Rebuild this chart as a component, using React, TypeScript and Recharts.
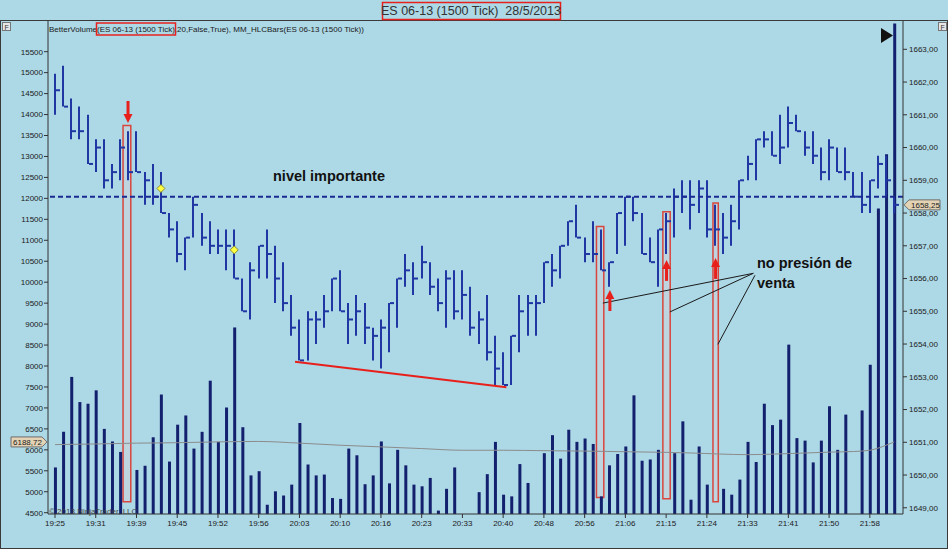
import React from 'react';
import {
  ComposedChart,
  Bar,
  Line,
  XAxis,
  YAxis,
  ReferenceLine,
  ReferenceArea,
  ReferenceDot,
} from 'recharts';

// axis labels
const timeLabels = [
  '19:25', '19:31', '19:39', '19:45', '19:52', '19:56', '20:03', '20:10', '20:16', '20:23', '20:33',
  '20:40', '20:48', '20:56', '21:06', '21:15', '21:24', '21:33', '21:41', '21:50', '21:58',
];
const volTicks = [4500, 5000, 5500, 6000, 6500, 7000, 7500, 8000, 8500, 9000, 9500, 10000, 10500, 11000, 11500, 12000, 12500, 13000, 13500, 14000, 14500, 15000, 15500];
const priceTicks = [1649, 1650, 1651, 1652, 1653, 1654, 1655, 1656, 1657, 1658, 1659, 1660, 1661, 1662, 1663];

// HLC bars, 1500 tick
const highs = [
  1662.25, 1662.5, 1661.5, 1661.25, 1661.0, 1660.25, 1660.25, 1659.5, 1660.25, 1660.5,
  1660.5, 1659.25, 1659.5, 1659.25, 1658.0, 1657.75, 1657.25, 1658.5, 1658.0, 1657.75,
  1657.5, 1657.5, 1657.5, 1656.0, 1656.5, 1657.0, 1657.5, 1657.0, 1656.5, 1655.5,
  1654.75, 1655.0, 1655.0, 1655.5, 1656.0, 1656.25, 1655.25, 1655.5, 1655.25, 1654.5,
  1654.75, 1655.25, 1656.0, 1656.75, 1656.5, 1657.0, 1656.5, 1656.0, 1656.25, 1656.25,
  1656.25, 1655.75, 1655.0, 1655.5, 1654.25, 1653.75, 1654.25, 1655.5, 1655.5, 1655.5,
  1656.5, 1656.75, 1657.0, 1657.75, 1658.25, 1657.25, 1657.75, 1657.5, 1656.5, 1658.0,
  1658.5, 1658.5, 1658.0, 1657.25, 1657.5, 1658.0, 1658.75, 1659.0, 1659.0, 1659.0,
  1659.0, 1658.25, 1658.0, 1658.25, 1659.0, 1659.75, 1660.25, 1660.5, 1660.5, 1661.0,
  1661.25, 1661.0, 1660.5, 1660.5, 1660.0, 1660.25, 1660.0, 1660.0, 1659.25, 1659.25,
  1659.0, 1659.75, 1659.75, 1658.5,
];
const lows = [
  1661.0, 1661.25, 1660.25, 1660.25, 1659.5, 1659.25, 1658.75, 1658.75, 1659.0, 1659.0,
  1659.25, 1658.25, 1658.25, 1658.0, 1657.25, 1656.5, 1656.25, 1657.25, 1657.0, 1656.75,
  1656.75, 1656.25, 1656.0, 1655.0, 1654.75, 1656.0, 1656.0, 1655.25, 1655.0, 1654.25,
  1653.5, 1653.5, 1654.0, 1654.5, 1655.0, 1655.0, 1654.0, 1654.25, 1654.0, 1653.5,
  1653.25, 1653.75, 1654.5, 1655.75, 1655.5, 1656.0, 1655.5, 1655.0, 1654.5, 1654.75,
  1654.75, 1654.25, 1654.0, 1653.5, 1652.75, 1652.75, 1652.75, 1653.75, 1654.25, 1654.25,
  1655.25, 1655.75, 1656.0, 1657.0, 1657.25, 1656.5, 1656.5, 1656.25, 1655.75, 1656.75,
  1657.0, 1657.75, 1656.75, 1656.5, 1655.75, 1656.75, 1657.25, 1658.0, 1657.5, 1658.0,
  1657.25, 1657.0, 1656.75, 1657.0, 1657.5, 1659.0, 1659.0, 1660.0, 1659.75, 1659.5,
  1660.0, 1660.5, 1659.75, 1659.5, 1659.0, 1659.0, 1659.25, 1659.0, 1658.5, 1658.0,
  1658.0, 1658.75, 1658.5, 1658.0,
];
const closes = [
  1661.75, 1661.25, 1660.5, 1660.5, 1659.5, 1660.0, 1659.0, 1659.25, 1660.0, 1659.25,
  1659.25, 1659.0, 1658.5, 1658.0, 1657.5, 1656.75, 1657.25, 1658.25, 1657.25, 1657.0,
  1657.0, 1657.0, 1656.0, 1655.0, 1656.25, 1657.0, 1656.75, 1656.0, 1655.25, 1654.5,
  1653.5, 1654.75, 1654.75, 1655.0, 1656.0, 1655.0, 1654.75, 1655.0, 1654.5, 1654.25,
  1654.5, 1655.25, 1656.0, 1656.25, 1656.0, 1656.5, 1655.75, 1655.25, 1656.0, 1655.0,
  1655.5, 1654.5, 1654.75, 1653.75, 1653.25, 1652.75, 1654.25, 1655.0, 1655.25, 1655.25,
  1656.5, 1656.25, 1657.0, 1657.75, 1657.25, 1656.75, 1656.75, 1656.25, 1656.5, 1658.0,
  1658.5, 1658.0, 1656.75, 1656.5, 1657.5, 1657.75, 1658.5, 1658.5, 1658.25, 1658.75,
  1657.5, 1657.5, 1657.25, 1657.75, 1659.0, 1659.5, 1660.25, 1660.25, 1659.75, 1660.0,
  1660.75, 1660.5, 1660.0, 1659.75, 1659.25, 1660.0, 1659.25, 1659.25, 1658.5, 1658.25,
  1659.0, 1659.5, 1659.0, 1658.25,
];
const volumes = [
  5580, 6430, 7740, 7140, 7100, 7420, 6500, 6200, 5950, 4450,
  5520, 5620, 6300, 7320, 5720, 6600, 6820, 6030, 6430, 7650,
  6190, 7010, 8920, 6540, 5390, 5490, 4690, 5010, 4910, 5170,
  6640, 5650, 5390, 5410, 4850, 4830, 6030, 5870, 5180, 5390,
  6200, 5200, 6000, 5630, 5170, 5130, 5330, 4550, 5070, 5580,
  4450, 4450, 4990, 5420, 6190, 4930, 4890, 5660, 5210, 4450,
  5920, 6350, 5790, 6480, 6190, 6270, 6140, 4890, 5630, 5900,
  6080, 7300, 5740, 5770, 6000, 4450, 5920, 6680, 4810, 6080,
  5170, 4450, 5070, 4930, 5290, 6190, 5710, 7100, 6590, 6720,
  8510, 6280, 6220, 5700, 6220, 7040, 6000, 6840, 4450, 6940,
  8030, 11760, 13050, 16170,
];
// 20-period volume average, read at these bars
const maBars = [0, 5, 10, 15, 20, 25, 30, 35, 40, 45, 50, 55, 60, 65, 70, 75, 78, 85, 90, 95, 98, 100, 101, 102, 103];
const maValues = [6125, 6140, 6160, 6170, 6190, 6200, 6160, 6110, 6070, 6030, 5990, 5990, 5980, 5970, 5955, 5940, 5925, 5885, 5910, 5945, 5960, 5990, 6040, 6110, 6188.72];

const VOL_DOMAIN: [number, number] = [4469, 16256];
const PX_DOMAIN: [number, number] = [1648.81, 1663.895];
const X_DOMAIN: [number, number] = [-0.86, 104.07];

const BG = '#add8e6';
const PRICE_COLOR = '#1f36a3';
const VOL_COLOR = '#13206e';
const RED = '#e8201c';
const FONT = '"Liberation Sans", Arial, sans-serif';

const commaFmt = (v: number) => v.toFixed(2).replace('.', ',');

const data = highs.map((h, i) => {
  const k = maBars.indexOf(i);
  return {
    i,
    high: h,
    low: lows[i],
    close: closes[i],
    range: [lows[i], h],
    vol: volumes[i] > VOL_DOMAIN[0] ? volumes[i] : null,
    ma: k >= 0 ? maValues[k] : null,
  };
});

function HlcBar(props: any) {
  const { x, y, width, height, payload } = props;
  if (x == null || y == null || !payload) return null;
  const top = Math.min(y, y + height);
  const h = Math.abs(height);
  const cx = Math.round(x + width / 2);
  const span = payload.high - payload.low;
  const cy = span > 0 ? top + ((payload.high - payload.close) / span) * h : top;
  return (
    <g>
      <line x1={cx} x2={cx} y1={top} y2={top + h} stroke={PRICE_COLOR} strokeWidth={2} />
      <line x1={cx + 1} x2={cx + 5} y1={cy} y2={cy} stroke={PRICE_COLOR} strokeWidth={2} />
    </g>
  );
}

const downArrow = (p: any) => (
  <g>
    <line x1={p.cx} x2={p.cx} y1={p.cy - 22} y2={p.cy - 6} stroke={RED} strokeWidth={3} />
    <polygon points={`${p.cx - 4.5},${p.cy - 9} ${p.cx + 4.5},${p.cy - 9} ${p.cx},${p.cy}`} fill={RED} />
  </g>
);

const upArrow = (p: any) => (
  <g>
    <line x1={p.cx} x2={p.cx} y1={p.cy + 6} y2={p.cy + 21} stroke={RED} strokeWidth={3} />
    <polygon points={`${p.cx - 4.5},${p.cy + 9} ${p.cx + 4.5},${p.cy + 9} ${p.cx},${p.cy}`} fill={RED} />
  </g>
);

const diamond = (p: any) => (
  <polygon
    points={`${p.cx},${p.cy - 4} ${p.cx + 4},${p.cy} ${p.cx},${p.cy + 4} ${p.cx - 4},${p.cy}`}
    fill="#ffff40"
    stroke="#8c8c30"
    strokeWidth={1}
  />
);

const rightTag = (p: any) => (
  <g>
    <polygon
      points={`${p.cx + 1},${p.cy} ${p.cx + 6},${p.cy - 5} ${p.cx + 37},${p.cy - 5} ${p.cx + 37},${p.cy + 5} ${p.cx + 6},${p.cy + 5}`}
      fill="#e3d3b4"
      stroke="#6e6e6e"
    />
    <text x={p.cx + 8} y={p.cy + 3} fontSize={8} fontFamily={FONT} fill="#222">
      {commaFmt(closes[closes.length - 1])}
    </text>
  </g>
);

const leftTag = (p: any) => (
  <g>
    <polygon
      points={`${p.cx - 1},${p.cy} ${p.cx - 6},${p.cy - 5} ${p.cx - 37},${p.cy - 5} ${p.cx - 37},${p.cy + 5} ${p.cx - 6},${p.cy + 5}`}
      fill="#e3d3b4"
      stroke="#6e6e6e"
    />
    <text x={p.cx - 35} y={p.cy + 3} fontSize={8} fontFamily={FONT} fill="#222">
      {commaFmt(maValues[maValues.length - 1])}
    </text>
  </g>
);

// red boxes around the marked bars: [left, right, top vol, bottom vol]
const boxes = [
  [8.35, 9.3, 13740, 4760],
  [66.45, 67.35, 11330, 4860],
  [74.6, 75.5, 11680, 4830],
  [80.75, 81.4, 11890, 4760],
];

const tickStyle = { fontSize: 8, fill: '#1a1a1a', fontFamily: FONT };

export default function App() {
  return (
    <div style={{ position: 'relative', width: 948, height: 549, background: BG, overflow: 'hidden' }}>
      <style>{'body{margin:0}'}</style>
      <ComposedChart width={948} height={549} data={data} margin={{ top: 20, right: 0, bottom: 0, left: 0 }}>
        <XAxis
          xAxisId="x"
          dataKey="i"
          type="number"
          domain={X_DOMAIN}
          allowDataOverflow
          ticks={timeLabels.map((_, k) => k * 5)}
          tickFormatter={(v: number) => timeLabels[Math.round(v / 5)] ?? ''}
          interval={0}
          height={35}
          tickSize={4}
          tickMargin={2}
          tick={tickStyle}
          stroke="#333"
        />
        <XAxis xAxisId="x2" dataKey="i" type="number" domain={X_DOMAIN} allowDataOverflow hide />
        <YAxis
          yAxisId="vol"
          orientation="left"
          width={48}
          domain={VOL_DOMAIN}
          allowDataOverflow
          ticks={volTicks}
          interval={0}
          tickSize={4}
          tickMargin={1}
          tick={tickStyle}
          stroke="#333"
        />
        <YAxis
          yAxisId="px"
          orientation="right"
          width={45}
          domain={PX_DOMAIN}
          allowDataOverflow
          ticks={priceTicks}
          interval={0}
          tickFormatter={commaFmt}
          tickSize={4}
          tickMargin={2}
          tick={tickStyle}
          stroke="#333"
        />

        {boxes.map((b, k) => (
          <ReferenceArea
            key={k}
            xAxisId="x"
            yAxisId="vol"
            x1={b[0]}
            x2={b[1]}
            y1={b[3]}
            y2={b[2]}
            fill="#f4c8c8"
            fillOpacity={0.25}
            stroke="#d9463e"
            strokeWidth={1.5}
            ifOverflow="visible"
          />
        ))}

        <Bar xAxisId="x" yAxisId="vol" dataKey="vol" barSize={3} fill={VOL_COLOR} isAnimationActive={false} />
        <Line
          xAxisId="x"
          yAxisId="vol"
          dataKey="ma"
          type="monotone"
          connectNulls
          dot={false}
          stroke="#8c8c8c"
          strokeWidth={1}
          isAnimationActive={false}
        />

        <ReferenceLine
          xAxisId="x"
          yAxisId="px"
          y={1658.5}
          stroke="#1b2a93"
          strokeWidth={2}
          strokeDasharray="5 3"
        />

        <Bar xAxisId="x2" yAxisId="px" dataKey="range" barSize={2} shape={HlcBar} isAnimationActive={false} />

        <ReferenceLine
          xAxisId="x"
          yAxisId="px"
          segment={[{ x: 29.45, y: 1653.46 }, { x: 55.4, y: 1652.68 }]}
          stroke={RED}
          strokeWidth={2}
          ifOverflow="visible"
        />
        <ReferenceLine xAxisId="x" yAxisId="px" segment={[{ x: 85.7, y: 1656.16 }, { x: 67.24, y: 1655.25 }]} stroke="#1a1a1a" strokeWidth={1} />
        <ReferenceLine xAxisId="x" yAxisId="px" segment={[{ x: 85.7, y: 1656.16 }, { x: 75.46, y: 1654.98 }]} stroke="#1a1a1a" strokeWidth={1} />
        <ReferenceLine xAxisId="x" yAxisId="px" segment={[{ x: 85.9, y: 1656.1 }, { x: 81.35, y: 1653.99 }]} stroke="#1a1a1a" strokeWidth={1} />

        <ReferenceDot xAxisId="x" yAxisId="px" x={8.96} y={1660.75} shape={downArrow} ifOverflow="visible" />
        <ReferenceDot xAxisId="x" yAxisId="px" x={68.1} y={1655.65} shape={upArrow} ifOverflow="visible" />
        <ReferenceDot xAxisId="x" yAxisId="px" x={75.05} y={1656.57} shape={upArrow} ifOverflow="visible" />
        <ReferenceDot xAxisId="x" yAxisId="px" x={81.07} y={1656.63} shape={upArrow} ifOverflow="visible" />

        <ReferenceDot xAxisId="x" yAxisId="px" x={13} y={1658.75} shape={diamond} ifOverflow="visible" />
        <ReferenceDot xAxisId="x" yAxisId="px" x={22} y={1656.875} shape={diamond} ifOverflow="visible" />

        <ReferenceDot xAxisId="x" yAxisId="px" x={X_DOMAIN[1]} y={closes[closes.length - 1]} shape={rightTag} ifOverflow="visible" />
        <ReferenceDot xAxisId="x" yAxisId="vol" x={X_DOMAIN[0]} y={maValues[maValues.length - 1]} shape={leftTag} ifOverflow="visible" />
      </ComposedChart>

      <svg width={948} height={549} style={{ position: 'absolute', left: 0, top: 0, pointerEvents: 'none' }}>
        <rect x={0.5} y={20.5} width={947} height={528} fill="none" stroke="#3a3a3a" />
        <rect x={382.5} y={2.5} width={178} height={17} fill="none" stroke={RED} strokeWidth={1.5} />
        <text x={471} y={15} textAnchor="middle" fontSize={12.5} fontFamily={FONT} fill="#333" style={{ whiteSpace: 'pre' }}>
          {'ES 06-13 (1500 Tick)  28/5/2013'}
        </text>

        <text x={49} y={32} fontSize={8} fontFamily={FONT} fill="#1a1a1a">
          BetterVolume(ES 06-13 (1500 Tick),20,False,True), MM_HLCBars(ES 06-13 (1500 Tick))
        </text>
        <rect x={96.5} y={23} width={79} height={12} fill="none" stroke={RED} strokeWidth={1.5} />

        <rect x={2.5} y={22.5} width={8} height={8} fill="#e6e6e6" stroke="#777" />
        <text x={4.5} y={29.5} fontSize={7} fontFamily={FONT} fill="#333">F</text>
        <rect x={938.5} y={22.5} width={8} height={8} fill="#e6e6e6" stroke="#777" />
        <text x={940.5} y={29.5} fontSize={7} fontFamily={FONT} fill="#333">F</text>

        <polygon points="881,28 893,35.5 881,43" fill="#111" />

        <text x={49} y={514} fontSize={8} fontFamily={FONT} fill="#444">
          © 2013 NinjaTrader, LLC
        </text>

        <text x={273} y={181} fontSize={14.5} fontWeight="bold" fontFamily={FONT} fill="#111">
          nivel importante
        </text>
        <text x={757} y={268} fontSize={14.5} fontWeight="bold" fontFamily={FONT} fill="#111">
          no presión de
        </text>
        <text x={757} y={288} fontSize={14.5} fontWeight="bold" fontFamily={FONT} fill="#111">
          venta
        </text>
      </svg>
    </div>
  );
}
